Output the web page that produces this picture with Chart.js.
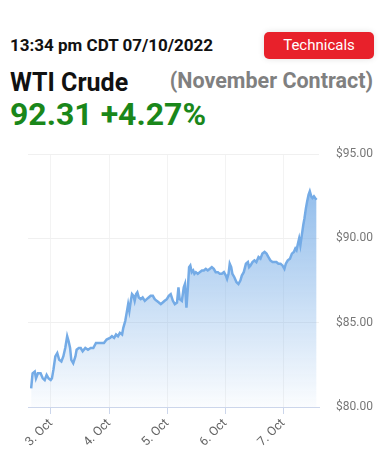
<!DOCTYPE html>
<html>
<head>
<meta charset="utf-8">
<script src="https://cdn.jsdelivr.net/npm/chart.js@4.4.0/dist/chart.umd.min.js"></script>
<style>
  body { margin: 0; background: #fff; font-family: Roboto, "Noto Sans", sans-serif; }
  .wrap { position: relative; width: 388px; height: 450px; overflow: hidden; }
  .t { position: absolute; white-space: nowrap; font-weight: 700; }
  .time { left: 10px; top: 37px; font-size: 17px; line-height: 17px; color: #111; }
  .name { left: 10px; top: 70px; font-size: 25px; line-height: 25px; color: #111; }
  .contract { right: 15px; top: 70px; font-size: 21.5px; line-height: 21.5px; color: #808080; }
  .price { left: 10px; top: 98px; font-size: 32px; line-height: 32px; color: #1a871a; }
  .btn {
    position: absolute; left: 264px; top: 32px; width: 110px; height: 27px;
    background: #e8212b; color: #fff; border-radius: 5px; text-align: center;
    font-size: 15px; line-height: 27px; box-shadow: 0 0 6px rgba(0,0,0,0.12);
  }
  canvas { position: absolute; left: 0; top: 130px; }
</style>
</head>
<body>
<div class="wrap">
  <div class="t time">13:34 pm CDT 07/10/2022</div>
  <div class="btn">Technicals</div>
  <div class="t name">WTI Crude</div>
  <div class="t contract">(November Contract)</div>
  <div class="t price">92.31 +4.27%</div>
  <canvas id="chart" width="388" height="320"></canvas>
</div>
<script>
// hours since 3 Oct 00:00
const hours = [
  -8.2, -7.6, -6.7, -6.2, -5.4, -4.3, -3.4, -2.6, -1.8, -1.0, -0.1, 0.4, 1.0, 1.8, 2.6, 3.4, 4.3, 5.1, 5.9, 6.7,
  7.3, 7.9, 8.4, 9.2, 10.1, 10.6, 11.5, 12.3, 13.1, 14.2, 15.3, 16.4, 17.5, 18.6, 19.7, 20.8, 21.9, 23.0,
  24.4, 25.2, 26.1, 26.9, 27.7, 28.5, 29.4, 29.9, 30.7, 31.3, 31.9, 32.4, 33.0, 33.5, 34.1, 34.6, 35.2, 35.7,
  36.3, 37.1, 37.9, 38.8, 39.6, 40.4, 41.2, 42.1, 42.9, 43.7, 44.6, 45.4, 46.2, 47.0, 47.9, 48.7, 49.5, 50.4, 51.2,
  52.1, 52.7, 53.2, 54.1, 54.9, 55.4, 56.0, 56.6, 57.1, 57.6, 58.2, 58.8, 59.3, 59.9, 60.7, 61.5, 62.4, 63.2,
  64.0, 64.8, 65.7, 66.5, 67.3, 68.1, 69.0, 69.8, 70.6, 71.5, 72.3, 72.8, 73.4, 73.9, 74.5, 75.0, 75.8, 76.7,
  77.5, 78.3, 78.9, 79.7, 80.6, 81.4, 81.9,
  82.5, 83.3, 84.1, 84.9, 85.8, 86.6, 87.4, 88.3, 89.1, 89.9, 90.7, 91.6, 92.4, 93.2, 94.0, 94.9, 95.7, 96.5,
  97.1, 97.9, 98.8, 99.6, 100.4, 101.0, 101.5, 102.1, 102.6, 103.1, 103.7, 104.3, 104.8, 105.4, 105.9, 106.5,
  107.0, 107.6, 108.1, 108.7, 109.2, 109.8
];
const prices = [
  81.1, 82.0, 82.1, 81.7, 82.0, 82.0, 81.7, 81.6, 81.9, 81.7, 81.6, 81.7, 82.2, 83.0, 83.2, 82.8, 82.7, 83.0, 83.5, 84.2,
  83.9, 83.5, 82.8, 82.6, 83.0, 83.4, 83.5, 83.5, 83.3, 83.5, 83.4, 83.5, 83.5, 83.8, 83.8, 83.8, 83.8, 84.0,
  84.1, 84.2, 84.1, 84.3, 84.2, 84.4, 84.3, 84.7, 85.1, 85.6, 86.1, 85.7, 86.3, 86.7, 86.6, 86.3, 86.7, 86.8,
  86.5, 86.4, 86.5, 86.3, 86.4, 86.5, 86.6, 86.6, 86.4, 86.3, 86.2, 86.1, 86.2, 86.3, 86.4, 86.6, 86.7, 86.3, 86.1,
  86.2, 87.1, 86.4, 86.3, 87.1, 87.3, 85.9, 87.1, 88.3, 88.4, 88.0, 88.1, 87.9, 88.0, 87.9, 88.0, 88.1, 88.1,
  88.2, 88.1, 88.2, 88.3, 88.2, 88.0, 88.0, 87.9, 87.9, 88.0, 87.8, 87.6, 87.9, 88.5, 88.3, 87.9, 87.7, 87.4,
  87.3, 87.5, 87.8, 88.0, 88.5, 88.6, 88.3,
  88.4, 88.6, 88.7, 88.6, 88.9, 88.8, 89.1, 89.2, 89.1, 88.9, 88.7, 88.6, 88.6, 88.6, 88.5, 88.5, 88.4, 88.2,
  88.5, 88.7, 88.8, 89.1, 89.2, 89.4, 89.3, 89.7, 90.0, 89.6, 90.2, 90.8, 91.2, 91.8, 92.2, 92.6,
  92.8, 92.5, 92.4, 92.5, 92.4, 92.3
];
const dayTicks = [0, 24, 48, 72, 96];
const dayLabels = ["3. Oct", "4. Oct", "5. Oct", "6. Oct", "7. Oct"];
const priceTicks = [80, 85, 90, 95];

const ctx = document.getElementById("chart").getContext("2d");

new Chart(ctx, {
  type: "line",
  data: {
    datasets: [{
      data: hours.map((h, i) => ({ x: h, y: prices[i] })),
      borderColor: "#74abe6",
      borderWidth: 2.5,
      pointRadius: 0,
      tension: 0,
      fill: "start",
      backgroundColor: (c) => {
        const area = c.chart.chartArea;
        if (!area) return "rgba(124,181,236,0.4)";
        const g = c.chart.ctx.createLinearGradient(0, area.top, 0, area.bottom);
        g.addColorStop(0, "rgba(116,171,230,0.9)");
        g.addColorStop(1, "rgba(116,171,230,0.03)");
        return g;
      },
    }],
  },
  options: {
    responsive: false,
    animation: false,
    layout: { padding: { left: 28, top: 3, right: 0, bottom: 0 } },
    plugins: { legend: { display: false }, tooltip: { enabled: false } },
    scales: {
      x: {
        type: "linear",
        min: -9.5,
        max: 110.8,
        afterBuildTicks: (s) => { s.ticks = dayTicks.map((v) => ({ value: v })); },
        afterFit: (s) => { s.height = 43; },
        ticks: {
          callback: (v) => dayLabels[dayTicks.indexOf(v)],
          minRotation: 45,
          maxRotation: 45,
          color: "#666",
          font: { family: "Roboto", size: 12.5 },
          padding: 2,
        },
        grid: { color: "#f3f3f3", tickColor: "#ccd6eb", tickLength: 7 },
        border: { color: "#ccd6eb" },
      },
      y: {
        position: "right",
        min: 80,
        max: 95,
        afterBuildTicks: (s) => { s.ticks = priceTicks.map((v) => ({ value: v })); },
        afterFit: (s) => { s.width = 69; },
        ticks: {
          callback: (v) => "$" + v.toFixed(2),
          color: "#777",
          font: { family: "Roboto", size: 12 },
          padding: 17,
        },
        grid: { color: "#f0f0f0", drawTicks: false },
        border: { display: false },
      },
    },
  },
});
</script>
</body>
</html>
